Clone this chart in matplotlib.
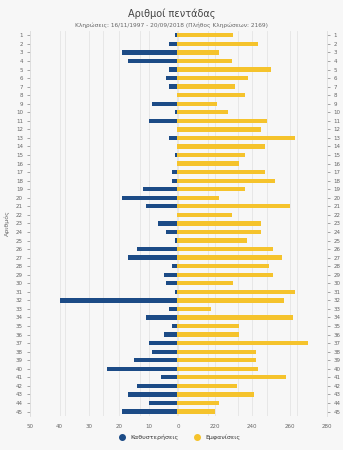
import numpy as np
import matplotlib
matplotlib.use('Agg')
import matplotlib.pyplot as plt
from matplotlib.lines import Line2D

# numbers 1..45
numbers = list(range(1, 46))
# delays (Καθυστερήσεις) per number
delays = [1, 3, 19, 17, 3, 4, 3, 0, 9, 1,
          10, 0, 3, 0, 1, 0, 2, 2, 12, 19,
          11, 0, 7, 4, 1, 14, 17, 2, 5, 4,
          1, 40, 3, 11, 2, 5, 10, 9, 15, 24,
          6, 14, 17, 10, 19]
# appearances (Εμφανίσεις) per number
appear = [230, 243, 222, 229, 250, 238, 231, 236, 221, 227,
          248, 245, 263, 247, 236, 233, 247, 252, 236, 222,
          260, 229, 245, 245, 237, 251, 256, 249, 251, 230,
          263, 257, 218, 262, 233, 233, 270, 242, 242, 243,
          258, 232, 241, 222, 220]

left_ticks = [50, 40, 30, 20, 10, 0]
right_ticks = [220, 240, 260, 280]

BLUE = '#1c4b86'
YELLOW = '#f5c32c'
BG = '#f7f7f7'
TXT = '#666666'

plt.rcParams['font.family'] = ['DejaVu Sans']
fig = plt.figure(figsize=(3.43, 4.5), dpi=100, facecolor=BG)
ax = fig.add_axes([0.087, 0.076, 0.866, 0.855], facecolor=BG)
ax2 = ax.twiny()

y = np.array(numbers)

# left half: delays, axis reversed so bars grow to the left
ax.set_xlim(50, -50)
ax.set_ylim(45.5, 0.5)
ax.set_xticks(range(-50, 51, 10))
ax.set_xticklabels([str(t) if t in left_ticks else '' for t in range(-50, 51, 10)])

# right half: appearances, starting at 200
ax2.set_xlim(121, 280)
ax2.set_xticks(range(140, 281, 20))
ax2.set_xticklabels([str(t) if t in right_ticks else '' for t in range(140, 281, 20)])
ax2.xaxis.set_ticks_position('bottom')
ax2.xaxis.set_label_position('bottom')

# both bar sets go on the top axes so no grid line crosses them
ax2.barh(y, delays, height=0.5, color=BLUE, zorder=3, transform=ax.transData)
ax2.barh(y, [a - 200 for a in appear], left=200, height=0.5, color=YELLOW, zorder=3)
ax2.set_xlim(121, 280)

for a in (ax, ax2):
    a.grid(axis='x', color='#e4e4e4', linewidth=0.6, zorder=0)
    a.set_axisbelow(True)
    for s in a.spines.values():
        s.set_visible(False)
    a.tick_params(axis='x', length=0, labelsize=4, colors=TXT, pad=6)

ax.set_yticks(numbers)
ax.set_yticklabels([str(n) for n in numbers])
ax.tick_params(axis='y', labelsize=4, colors=TXT, length=2, width=0.4,
               left=True, right=True, labelleft=True, labelright=True, pad=3)
ax.spines['left'].set_visible(True)
ax.spines['right'].set_visible(True)
ax.spines['left'].set_color('#dddddd')
ax.spines['right'].set_color('#dddddd')
ax.spines['left'].set_linewidth(0.6)
ax.spines['right'].set_linewidth(0.6)
ax.set_ylabel('Αριθμός', fontsize=4.5, color=TXT, labelpad=4)

fig.text(0.5, 0.982, 'Αριθμοί πεντάδας', ha='center', va='top', fontsize=7, color='#444444')
fig.text(0.5, 0.951, 'Κληρώσεις: 16/11/1997 - 20/09/2018 (Πλήθος Κληρώσεων: 2169)',
         ha='center', va='top', fontsize=4.2, color=TXT)

handles = [Line2D([], [], marker='o', linestyle='', color=BLUE, markersize=4),
           Line2D([], [], marker='o', linestyle='', color=YELLOW, markersize=4)]
fig.legend(handles, ['Καθυστερήσεις', 'Εμφανίσεις'], loc='center',
           bbox_to_anchor=(0.52, 0.028), ncol=2, frameon=False, fontsize=4.5,
           handletextpad=0.3, columnspacing=2.0, labelcolor='#333333')

fig.savefig('out.png', dpi=100, facecolor=BG)
